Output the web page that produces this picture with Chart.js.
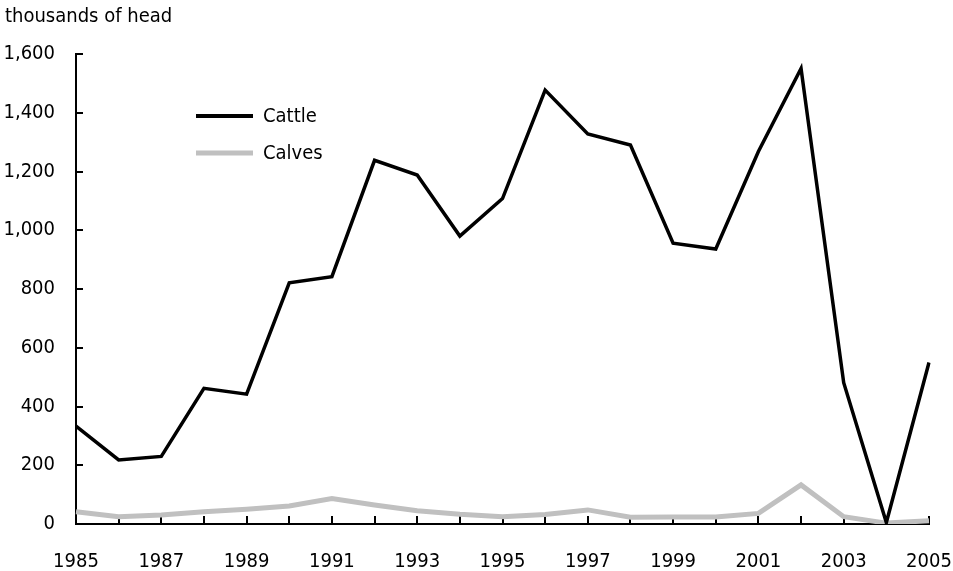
<!DOCTYPE html>
<html>
<head>
<meta charset="utf-8">
<script src="https://cdn.jsdelivr.net/npm/chart.js@4"></script>
<style>
  body { margin: 0; background: #fff; }
  canvas { display: block; }
</style>
</head>
<body>
<canvas id="chart" width="953" height="571"></canvas>
<script>
const years = ["1985", "1986", "1987", "1988", "1989", "1990", "1991", "1992", "1993", "1994", "1995",
    "1996", "1997", "1998", "1999", "2000", "2001", "2002", "2003", "2004", "2005"];
const cattle = [333, 218, 230, 462, 442, 821, 842, 1238, 1188, 980, 1108, 1477, 1328, 1290, 956, 936, 1268, 1551, 481, 5, 550];
const calves = [42, 25, 31, 42, 50, 61, 87, 65, 45, 33, 25, 32, 48, 23, 24, 24, 36, 133, 25, 3, 11];
const yTicks = [0, 200, 400, 600, 800, 1000, 1200, 1400, 1600];
const unitLabel = "thousands of head";

const fontFamily = "'DejaVu Sans Condensed', 'DejaVu Sans', sans-serif";
const fontSize = 20;
Chart.defaults.font.family = fontFamily;
Chart.defaults.font.size = fontSize;
Chart.defaults.color = "#000";

// tick marks point into the plot area, so draw them by hand
const innerTicks = {
    id: "innerTicks",
    beforeDatasetsDraw(chart) {
        const ctx = chart.ctx;
        const x = chart.scales.x;
        const y = chart.scales.y;
        ctx.save();
        ctx.strokeStyle = "#000";
        ctx.lineWidth = 2;
        ctx.beginPath();
        x.ticks.forEach((t, i) => {
            const px = Math.round(x.getPixelForTick(i));
            ctx.moveTo(px, y.bottom);
            ctx.lineTo(px, y.bottom - 8);
        });
        y.ticks.forEach((t, i) => {
            const py = Math.round(y.getPixelForTick(i));
            ctx.moveTo(x.left, py);
            ctx.lineTo(x.left + 7, py);
        });
        ctx.stroke();
        ctx.restore();
    }
};

// legend sits inside the plot, top left
const insideLegend = {
    id: "insideLegend",
    afterDraw(chart) {
        const ctx = chart.ctx;
        ctx.save();
        ctx.font = fontSize + "px " + fontFamily;
        ctx.textBaseline = "middle";
        ctx.fillStyle = "#000";
        chart.data.datasets.forEach((ds, i) => {
            const cy = 116 + i * 37;
            ctx.strokeStyle = ds.borderColor;
            ctx.lineWidth = i === 0 ? 4 : 5;
            ctx.beginPath();
            ctx.moveTo(196, cy);
            ctx.lineTo(253, cy);
            ctx.stroke();
            ctx.fillText(ds.label, 263, cy + 1);
        });
        ctx.restore();
    }
};

const ctx = document.getElementById("chart").getContext("2d");
new Chart(ctx, {
    type: "line",
    data: {
        labels: years,
        datasets: [
            {
                label: "Cattle",
                data: cattle,
                borderColor: "#000000",
                borderWidth: 3.5,
                borderJoinStyle: "miter",
                pointRadius: 0,
                tension: 0
            },
            {
                label: "Calves",
                data: calves,
                borderColor: "#c0c0c0",
                borderWidth: 5,
                borderJoinStyle: "miter",
                pointRadius: 0,
                tension: 0
            }
        ]
    },
    options: {
        responsive: false,
        animation: false,
        layout: {
            padding: { left: 5, right: 24, top: 0, bottom: 0 }
        },
        plugins: {
            legend: { display: false },
            tooltip: { enabled: false },
            title: {
                display: true,
                text: unitLabel,
                align: "start",
                font: { size: fontSize, weight: "normal" },
                padding: { top: 5, bottom: 25 }
            }
        },
        scales: {
            x: {
                offset: false,
                grid: { display: false, drawTicks: false },
                border: { color: "#000", width: 2 },
                ticks: {
                    autoSkip: false,
                    maxRotation: 0,
                    padding: 26,
                    callback: (v, i) => (i % 2 === 0 ? years[i] : "")
                },
                afterFit: (axis) => {
                    axis.height = 47;
                    axis.paddingLeft = 0;
                    axis.paddingRight = 0;
                }
            },
            y: {
                min: 0,
                max: 1600,
                afterBuildTicks: (axis) => {
                    axis.ticks = yTicks.map(v => ({ value: v }));
                },
                grid: { display: false, drawTicks: false },
                border: { color: "#000", width: 2 },
                ticks: {
                    padding: 21,
                    callback: (v) => v.toLocaleString("en-US")
                },
                afterFit: (axis) => {
                    axis.width = 71;
                    axis.paddingTop = 0;
                    axis.paddingBottom = 0;
                }
            }
        }
    },
    plugins: [innerTicks, insideLegend]
});
</script>
</body>
</html>
